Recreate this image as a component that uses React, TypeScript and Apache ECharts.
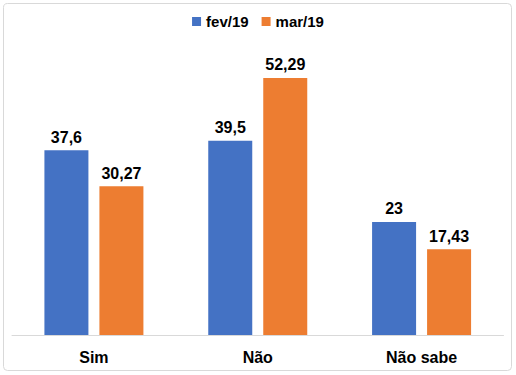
import React, { useEffect, useRef } from "react";
import * as echarts from "echarts";

const categories = ["Sim", "Não", "Não sabe"];
const fev19 = [37.6, 39.5, 23];
const mar19 = [30.27, 52.29, 17.43];
const seriesNames = ["fev/19", "mar/19"];

const fmt = (v: number) => String(v).replace(".", ",");

export default function App() {
  const ref = useRef<HTMLDivElement>(null);
  useEffect(() => {
    if (!ref.current) return;
    const chart = echarts.init(ref.current, null, { renderer: "svg" });
    const font = "'Liberation Sans', Arial, sans-serif";
    chart.setOption({
      animation: false,
      backgroundColor: "#ffffff",
      graphic: [
        {
          type: "rect",
          shape: { x: 3.5, y: 3.5, width: 508, height: 367, r: 4 },
          style: { fill: "none", stroke: "#d9d9d9", lineWidth: 1 },
          silent: true,
        },
      ],
      legend: {
        top: 9,
        left: "center",
        itemWidth: 9,
        itemHeight: 9,
        itemGap: 13,
        icon: "rect",
        textStyle: { fontFamily: font, fontWeight: "bold", fontSize: 15, color: "#000" },
        data: seriesNames,
      },
      grid: { left: 12, right: 12.5, top: 40, bottom: 40, containLabel: false },
      xAxis: {
        type: "category",
        data: categories,
        axisLine: { lineStyle: { color: "#d9d9d9", width: 1 } },
        axisTick: { show: false },
        axisLabel: {
          margin: 14,
          fontFamily: font,
          fontWeight: "bold",
          fontSize: 16,
          color: "#000",
        },
      },
      yAxis: {
        type: "value",
        min: 0,
        max: 60,
        interval: 10,
        show: false,
        splitLine: { show: false },
      },
      series: [
        {
          name: seriesNames[0],
          type: "bar",
          data: fev19,
          barWidth: 44,
          barGap: "25%",
          itemStyle: { color: "#4472C4" },
          label: {
            show: true,
            position: "top",
            distance: 5,
            formatter: (p: any) => fmt(p.value),
            fontFamily: font,
            fontWeight: "bold",
            fontSize: 16,
            color: "#000",
          },
        },
        {
          name: seriesNames[1],
          type: "bar",
          data: mar19,
          barWidth: 44,
          barGap: "25%",
          itemStyle: { color: "#ED7D31" },
          label: {
            show: true,
            position: "top",
            distance: 5,
            formatter: (p: any) => fmt(p.value),
            fontFamily: font,
            fontWeight: "bold",
            fontSize: 16,
            color: "#000",
          },
        },
      ],
    });
    return () => chart.dispose();
  }, []);
  return (
    <div
      ref={ref}
      style={{ position: "fixed", left: 0, top: 0, width: 516, height: 375 }}
    />
  );
}
